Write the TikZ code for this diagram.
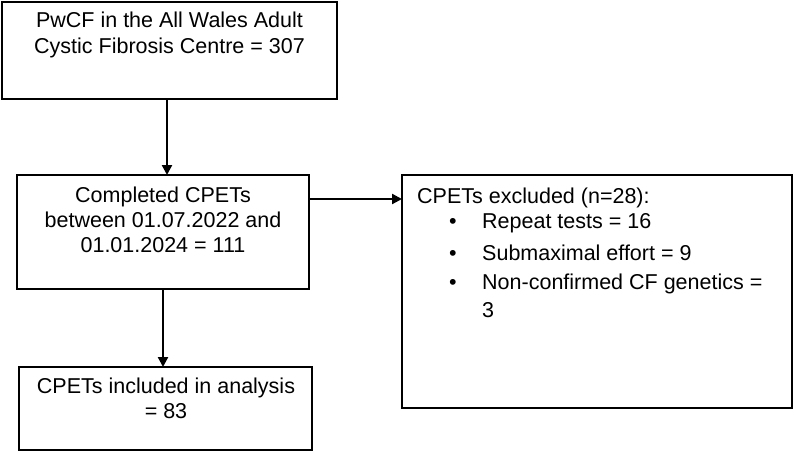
\documentclass[tikz,border=0pt]{standalone}
\usepackage{fontspec}
\setmainfont{Liberation Sans}
\usetikzlibrary{arrows.meta}

\tikzset{
  box/.style={draw=black, line width=2.3pt, inner sep=0pt, outer sep=0pt},
  txt/.style={font=\fontsize{21.5pt}{25pt}\selectfont, inner sep=0pt, align=center},
  arr/.style={line width=2.3pt, -{Triangle[length=10pt,width=10pt]}}
}

\begin{document}
\begin{tikzpicture}[x=1pt,y=1pt]
    \useasboundingbox (0,0) rectangle (794,-452);

    % Boxes
    \node[box, minimum width=335pt, minimum height=97pt] (pwcf) at (169.5,-50.5) {};
    \node[box, minimum width=292pt, minimum height=114pt] (done) at (163,-232) {};
    \node[box, minimum width=390pt, minimum height=233pt] (excl) at (597,-291.5) {};
    \node[box, minimum width=293pt, minimum height=83pt] (incl) at (165.5,-408.5) {};

    % Box texts (base = last line)
    \node[txt, anchor=base] (pwcftxt) at (169.5,-53) {PwCF in the All Wales Adult\\Cystic Fibrosis Centre = 307};
    \node[txt, anchor=base] (donetxt) at (163,-252) {Completed CPETs\\between 01.07.2022 and\\01.01.2024 = 111};
    \node[txt, anchor=base] (incltxt) at (166,-418) {CPETs included in analysis\\= 83};

    % Exclusions
    \node[txt, anchor=base west] (exhead) at (417,-203) {CPETs excluded (n=28):};
    \node[txt, anchor=base west] (ex1) at (482,-228) {Repeat tests = 16};
    \node[txt, anchor=base west] (ex2) at (482,-260) {Submaximal effort = 9};
    \node[txt, anchor=base west] (ex3) at (482,-289) {Non-confirmed CF genetics =};
    \node[txt, anchor=base west] (ex3b) at (482,-317) {3};
    \foreach \n in {ex1,ex2,ex3}
        \node[txt, anchor=base] at ([xshift=-29pt]\n.base west) {\textbullet};

    % Arrows
    \draw[arr] ([xshift=-2.5pt]pwcf.south) -- ([xshift=-2.5pt]pwcf.south |- done.north);
    \draw[arr] ([yshift=33pt]done.east) -- ([yshift=33pt]done.east -| excl.west);
    \draw[arr] (done.south) -- (done.south |- incl.north);
\end{tikzpicture}
\end{document}
